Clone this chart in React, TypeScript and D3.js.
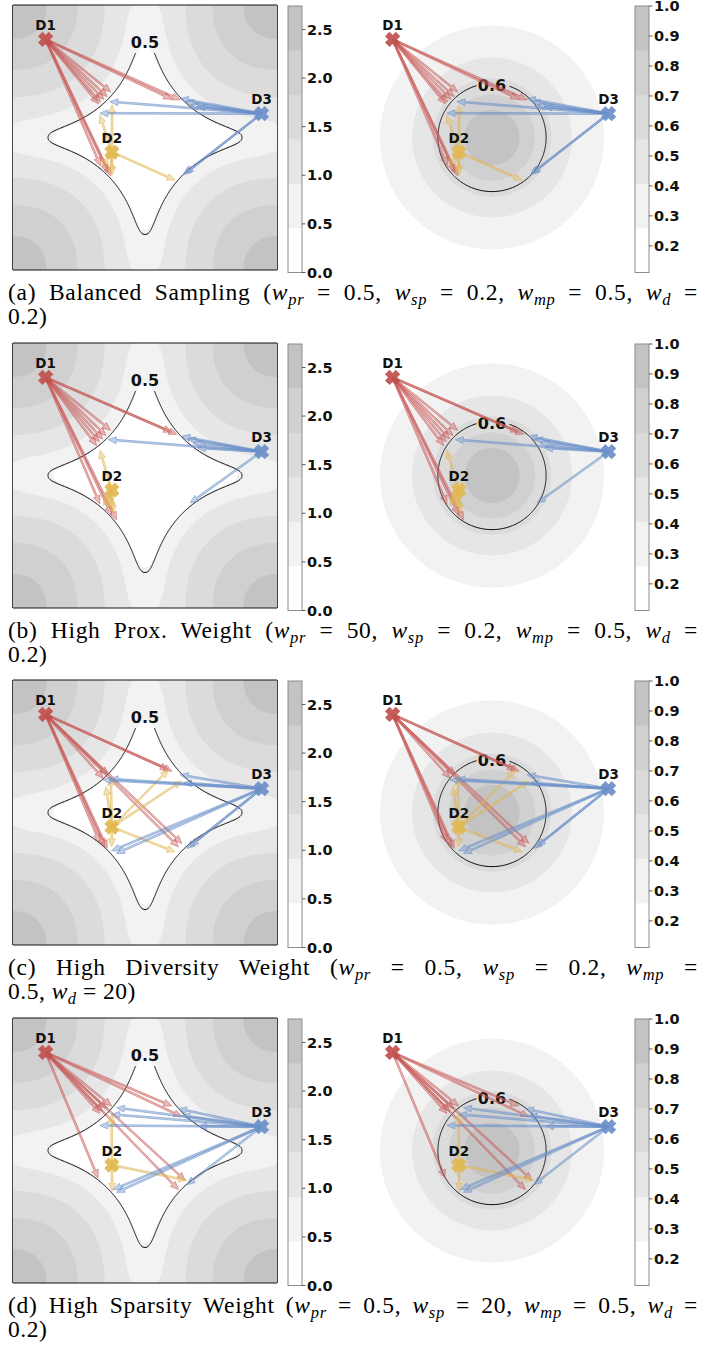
import React, { useMemo, useLayoutEffect, useRef } from "react";
import * as d3 from "d3";

// ---------- data ----------
const POINT_NAMES = ["D1", "D2", "D3"];
const POINT_X = [-0.75, -0.25, 0.88];
const POINT_Y = [0.74, -0.11, 0.18];
const POINT_COLORS = ["#c0504d", "#e2b94f", "#6b8fc9"];
const ARROW_COLORS = ["#c85c5a", "#e0b652", "#6a8fca"];

// counterfactual end points, per row and per source point
const CF_A_D1 = [[-0.26, 0.345], [-0.286, 0.309], [-0.311, 0.289], [-0.336, 0.269], [-0.351, 0.254], [0.202, 0.289], [0.265, 0.284], [-0.336, -0.213], [-0.278, -0.266], [-0.258, -0.289]];
const CF_A_D2 = [[-0.248, 0.246], [-0.341, 0.17], [-0.248, -0.284], [-0.26, -0.27], [-0.328, -0.221], [0.227, -0.322]];
const CF_A_D3 = [[-0.265, 0.271], [-0.341, 0.183], [0.265, 0.294], [0.303, 0.271], [0.341, 0.244], [0.392, 0.233], [0.303, -0.271], [0.29, -0.28]];

const CF_B_D1 = [[-0.26, 0.342], [-0.295, 0.302], [-0.32, 0.276], [-0.346, 0.256], [-0.366, 0.226], [0.202, 0.327], [0.24, 0.311], [-0.341, -0.214], [-0.252, -0.297], [-0.215, -0.335]];
const CF_B_D2 = [[-0.341, 0.19], [-0.303, -0.197], [-0.278, -0.234], [-0.252, -0.264], [-0.24, -0.284], [-0.316, -0.226]];
const CF_B_D3 = [[-0.278, 0.271], [0.278, 0.296], [0.321, 0.276], [0.366, 0.246], [0.396, 0.208], [0.341, -0.207]];

const CF_C_D1 = [[-0.278, 0.284], [-0.316, 0.259], [0.177, 0.322], [0.205, 0.312], [-0.341, -0.226], [-0.303, -0.259], [-0.285, -0.271], [0.278, -0.233], [0.252, -0.259]];
const CF_C_D2 = [[-0.295, 0.195], [-0.258, 0.267], [0.177, 0.322], [0.278, 0.239], [0.227, -0.297], [-0.252, -0.259]];
const CF_C_D3 = [[-0.265, 0.254], [-0.316, 0.246], [0.265, 0.284], [0.29, 0.225], [-0.252, -0.289], [-0.215, -0.309], [0.316, -0.271], [0.341, -0.254]];

const CF_D_D1 = [[-0.252, 0.336], [-0.29, 0.316], [-0.32, 0.295], [-0.341, 0.28], [0.202, 0.336], [0.278, 0.255], [-0.354, -0.207], [0.303, -0.225], [0.252, -0.295]];
const CF_D_D2 = [[-0.252, 0.273], [-0.248, -0.308], [0.316, -0.225]];
const CF_D_D3 = [[-0.215, 0.323], [-0.252, 0.273], [-0.341, 0.189], [0.252, 0.316], [0.278, 0.265], [0.404, 0.184], [-0.215, -0.316], [-0.24, -0.295], [0.316, -0.258]];

const ROW_CF = [
  [CF_A_D1, CF_A_D2, CF_A_D3],
  [CF_B_D1, CF_B_D2, CF_B_D3],
  [CF_C_D1, CF_C_D2, CF_C_D3],
  [CF_D_D1, CF_D_D2, CF_D_D3],
];

const CAPTION_TITLES = ["(a) Balanced Sampling", "(b) High Prox. Weight", "(c) High Diversity Weight", "(d) High Sparsity Weight"];
const W_NAMES = ["pr", "sp", "mp", "d"];
const W_PR_VALUES = ["0.5", "50", "0.5", "0.5"];
const W_SP_VALUES = ["0.2", "0.2", "0.2", "20"];
const W_MP_VALUES = ["0.5", "0.5", "0.5", "0.5"];
const W_D_VALUES = ["0.2", "0.2", "20", "0.2"];
const CAPTION_BREAK_TERM = [3, 3, 2, 3];

const LEFT_TICKS = [0, 0.5, 1.0, 1.5, 2.0, 2.5];
const RIGHT_TICKS = [0.2, 0.3, 0.4, 0.5, 0.6, 0.7, 0.8, 0.9, 1.0];
const LEFT_LINE_LEVEL = 0.5;
const RIGHT_LINE_LEVEL = 0.6;

// ---------- layout / style ----------
const ROW_TOPS = [5, 343, 680, 1018];
const LEFT_X = 12.5;
const RIGHT_X = 359.5;
const PANEL = 265;
const CB_LEFT_X = 288;
const CB_RIGHT_X = 635;
const CB_W = 14;
const GRID_N = 265;
const BAND_COLORS = ["#ffffff", "#f2f2f2", "#e6e6e6", "#dbdbdb", "#d0d0d0", "#c3c3c3"];
const SANS = "'DejaVu Sans', sans-serif";
const SERIF = "'Liberation Serif', 'Times New Roman', serif";

// ---------- fields ----------
const CORNERS = [[-1, 1], [1, 1], [-1, -1], [1, -1]];
const C_GAIN = 2.554, C_RADIUS = 1.078, C_POW = 0.6, C_ANISO = 1.35;
const RADIAL_GAIN = 0.85, RADIAL_POW = 1.7, SMOOTH_P = 4;
function leftField(u: number, v: number) {
  let acc = Math.pow(RADIAL_GAIN * Math.pow(u * u + v * v, RADIAL_POW / 2), SMOOTH_P);
  for (const [cx, cy] of CORNERS) {
    const nx = -cx / Math.SQRT2, ny = -cy / Math.SQRT2;
    const wx = u - cx, wy = v - cy;
    const along = wx * nx + wy * ny;
    const across = -wx * ny + wy * nx;
    const z = C_RADIUS - Math.sqrt(along * along + C_ANISO * across * across);
    if (z > 0) acc += Math.pow(C_GAIN * Math.pow(z, C_POW), SMOOTH_P);
  }
  return Math.pow(acc, 1 / SMOOTH_P);
}
const RIGHT_SCALE = 0.5;
function rightField(u: number, v: number) {
  return 1 / (1 + (u * u + v * v) / (RIGHT_SCALE * RIGHT_SCALE));
}
const LEFT_MIN = 0;
const LEFT_MAX = leftField(1, 1);
const RIGHT_MIN = rightField(1, 1);
const RIGHT_MAX = rightField(0, 0);
const LEFT_LEVELS = d3.range(7).map((i) => LEFT_MIN + (i * (LEFT_MAX - LEFT_MIN)) / 6);
const RIGHT_LEVELS = d3.range(7).map((i) => RIGHT_MIN + (i * (RIGHT_MAX - RIGHT_MIN)) / 6);

function grid(fn: (u: number, v: number) => number) {
  const vals = new Float64Array(GRID_N * GRID_N);
  for (let j = 0; j < GRID_N; j++) {
    const v = 1 - ((j + 0.5) * 2) / GRID_N;
    for (let i = 0; i < GRID_N; i++) {
      const u = -1 + ((i + 0.5) * 2) / GRID_N;
      vals[j * GRID_N + i] = fn(u, v);
    }
  }
  return vals;
}

const xS = d3.scaleLinear().domain([-1, 1]).range([0, PANEL]);
const yS = d3.scaleLinear().domain([-1, 1]).range([PANEL, 0]);

function arrowPath(x0: number, y0: number, x1: number, y1: number) {
  const sw = 1.7, hw = 7, hl = 8;
  const dx = x1 - x0, dy = y1 - y0, L = Math.hypot(dx, dy);
  const ux = dx / L, uy = dy / L, nx = -uy, ny = ux;
  const bx = x1 - ux * hl, by = y1 - uy * hl;
  const pts = [
    [x0 + (nx * sw) / 2, y0 + (ny * sw) / 2],
    [bx + (nx * sw) / 2, by + (ny * sw) / 2],
    [bx + (nx * hw) / 2, by + (ny * hw) / 2],
    [x1, y1],
    [bx - (nx * hw) / 2, by - (ny * hw) / 2],
    [bx - (nx * sw) / 2, by - (ny * sw) / 2],
    [x0 - (nx * sw) / 2, y0 - (ny * sw) / 2],
  ];
  return "M" + pts.map((p) => p[0].toFixed(2) + "," + p[1].toFixed(2)).join("L") + "Z";
}

function xMarker(cx: number, cy: number, s = 7.6, a = 0.42) {
  const plus = [[a, 1], [a, a], [1, a], [1, -a], [a, -a], [a, -1], [-a, -1], [-a, -a], [-1, -a], [-1, a], [-a, a], [-a, 1]];
  const c = Math.SQRT1_2;
  const pts = plus.map(([x, y]) => [cx + s * (x * c - y * c), cy + s * (x * c + y * c)]);
  return "M" + pts.map((p) => p[0].toFixed(2) + "," + p[1].toFixed(2)).join("L") + "Z";
}

function Overlay({ row }: { row: number }) {
  const cfs = ROW_CF[row];
  return (
    <g>
      {cfs.map((list, k) =>
        list.map((p, i) => (
          <path
            key={k + "-" + i}
            d={arrowPath(xS(POINT_X[k]), yS(POINT_Y[k]), xS(p[0]), yS(p[1]))}
            fill={ARROW_COLORS[k]}
            fillOpacity={0.42}
            stroke={ARROW_COLORS[k]}
            strokeOpacity={0.8}
            strokeWidth={0.7}
          />
        ))
      )}
      {POINT_NAMES.map((n, k) => (
        <g key={n}>
          <path d={xMarker(xS(POINT_X[k]), yS(POINT_Y[k]))} fill={POINT_COLORS[k]} fillOpacity={0.92} />
          <text x={xS(POINT_X[k])} y={yS(POINT_Y[k]) - 9.5} textAnchor="middle" fontFamily={SANS} fontWeight="bold" fontSize={13.5} fill="#111">
            {n}
          </text>
        </g>
      ))}
    </g>
  );
}

function Colorbar({ x, top, min, max, ticks }: { x: number; top: number; min: number; max: number; ticks: number[] }) {
  const y0 = top + 1, y1 = top + 267.5;
  const sc = d3.scaleLinear().domain([min, max]).range([y1, y0]);
  const levels = d3.range(7).map((i) => min + (i * (max - min)) / 6);
  return (
    <g>
      {levels.slice(0, 6).map((lv, i) => (
        <rect key={i} x={x} y={sc(levels[i + 1])} width={CB_W} height={sc(lv) - sc(levels[i + 1]) + 0.3} fill={BAND_COLORS[i]} />
      ))}
      <rect x={x} y={y0} width={CB_W} height={y1 - y0} fill="none" stroke="#8c8c8c" strokeWidth={1} />
      {ticks.map((t) => (
        <g key={t}>
          <line x1={x + CB_W} x2={x + CB_W + 3.5} y1={sc(t)} y2={sc(t)} stroke="#333" strokeWidth={0.8} />
          <text x={x + CB_W + 5} y={sc(t)} dy="0.36em" fontFamily={SANS} fontWeight="bold" fontSize={14.5} fill="#111">
            {t.toFixed(1)}
          </text>
        </g>
      ))}
    </g>
  );
}

type Tok = { t: string; w?: string };
function captionLines(row: number): [Tok[], Tok[]] {
  const vals = [W_PR_VALUES[row], W_SP_VALUES[row], W_MP_VALUES[row], W_D_VALUES[row]];
  const l1: Tok[] = [{ t: CAPTION_TITLES[row] + " (" }];
  const l2: Tok[] = [];
  let cur = l1;
  W_NAMES.forEach((nm, k) => {
    cur.push({ t: "w", w: nm });
    if (k === CAPTION_BREAK_TERM[row]) {
      cur.push({ t: " =" });
      cur = l2;
      cur.push({ t: vals[k] + (k === 3 ? ")" : ", ") });
    } else {
      cur.push({ t: " = " + vals[k] + (k === 3 ? ")" : ", ") });
    }
  });
  return [l1, l2];
}

function renderToks(toks: Tok[]) {
  const out: any[] = [];
  let shifted = false;
  toks.forEach((tk, i) => {
    if (tk.w) {
      out.push(
        <tspan key={i + "w"} fontStyle="italic" dy={shifted ? -4.5 : 0}>
          w
        </tspan>
      );
      out.push(
        <tspan key={i + "s"} fontStyle="italic" fontSize={16.5} dy={4.5}>
          {tk.w}
        </tspan>
      );
      shifted = true;
    } else {
      out.push(
        <tspan key={i} dy={shifted ? -4.5 : 0}>
          {tk.t}
        </tspan>
      );
      shifted = false;
    }
  });
  return out;
}

export default function App() {
  const leftGrid = useMemo(() => grid(leftField), []);
  const rightGrid = useMemo(() => grid(rightField), []);
  const path = useMemo(() => d3.geoPath(d3.geoIdentity().scale(PANEL / GRID_N)), []);
  const leftBands = useMemo(() => d3.contours().size([GRID_N, GRID_N]).thresholds(LEFT_LEVELS.slice(0, 6))(leftGrid as any), [leftGrid]);
  const rightBands = useMemo(() => d3.contours().size([GRID_N, GRID_N]).thresholds(RIGHT_LEVELS.slice(0, 6))(rightGrid as any), [rightGrid]);
  const leftLine = useMemo(() => d3.contours().size([GRID_N, GRID_N]).thresholds([LEFT_LINE_LEVEL])(leftGrid as any)[0], [leftGrid]);
  const rightLine = useMemo(() => d3.contours().size([GRID_N, GRID_N]).thresholds([RIGHT_LINE_LEVEL])(rightGrid as any)[0], [rightGrid]);

  const lineRefs = useRef<(SVGTextElement | null)[]>([]);
  useLayoutEffect(() => {
    lineRefs.current.forEach((el) => {
      if (!el) return;
      el.style.wordSpacing = "0px";
      el.style.letterSpacing = "0px";
      const txt = el.textContent || "";
      const len = el.getComputedTextLength();
      const spaces = txt.split(" ").length - 1;
      const chars = txt.length;
      const extra = 690 - len;
      const ls = Math.max(0, Math.min(0.7, (extra * 0.45) / chars));
      el.style.letterSpacing = ls + "px";
      const len2 = el.getComputedTextLength();
      if (spaces > 0) el.style.wordSpacing = (690 - len2) / spaces + "px";
    });
  }, []);

  return (
    <svg width={706} height={1349} style={{ position: "absolute", left: 0, top: 0, background: "#fff" }}>
      <defs>
        <mask id="mLeft" maskUnits="userSpaceOnUse" x={-10} y={-10} width={300} height={300}>
          <rect x={-10} y={-10} width={300} height={300} fill="#fff" />
          <rect x={112} y={20} width={41} height={28} fill="#000" />
        </mask>
        <mask id="mRight" maskUnits="userSpaceOnUse" x={-10} y={-10} width={300} height={300}>
          <rect x={-10} y={-10} width={300} height={300} fill="#fff" />
          <rect x={117} y={70} width={33} height={20} fill="#000" />
        </mask>
      </defs>
      {ROW_TOPS.map((top, row) => {
        const [l1, l2] = captionLines(row);
        return (
          <g key={row}>
            <g transform={`translate(${LEFT_X},${top})`}>
              {leftBands.map((b, i) => (
                <path key={i} d={path(b as any) || ""} fill={BAND_COLORS[i]} />
              ))}
              <path d={path(leftLine as any) || ""} fill="none" stroke="#111" strokeWidth={1} mask="url(#mLeft)" />
              <text x={xS(0)} y={42.5} textAnchor="middle" fontFamily={SANS} fontWeight="bold" fontSize={16} fill="#111">
                {LEFT_LINE_LEVEL.toFixed(1)}
              </text>
              <Overlay row={row} />
            </g>
            <Colorbar x={CB_LEFT_X} top={top} min={LEFT_MIN} max={LEFT_MAX} ticks={LEFT_TICKS} />
            <g transform={`translate(${RIGHT_X},${top})`}>
              {rightBands.map((b, i) => (
                <path key={i} d={path(b as any) || ""} fill={BAND_COLORS[i]} />
              ))}
              <path d={path(rightLine as any) || ""} fill="none" stroke="#111" strokeWidth={1} mask="url(#mRight)" />
              <text x={xS(0)} y={85.5} textAnchor="middle" fontFamily={SANS} fontWeight="bold" fontSize={16} fill="#111">
                {RIGHT_LINE_LEVEL.toFixed(1)}
              </text>
              <Overlay row={row} />
            </g>
            <Colorbar x={CB_RIGHT_X} top={top} min={RIGHT_MIN} max={RIGHT_MAX} ticks={RIGHT_TICKS} />
            <text
              ref={(el) => (lineRefs.current[row] = el)}
              x={8}
              y={top + 295}
              fontFamily={SERIF}
              fontSize={23.5}
              fill="#000"
              style={{ whiteSpace: "pre" }}
            >
              {renderToks(l1)}
            </text>
            <text x={8} y={top + 319} fontFamily={SERIF} fontSize={23.5} fill="#000" style={{ whiteSpace: "pre", letterSpacing: "0.5px" }}>
              {renderToks(l2)}
            </text>
          </g>
        );
      })}
    </svg>
  );
}
